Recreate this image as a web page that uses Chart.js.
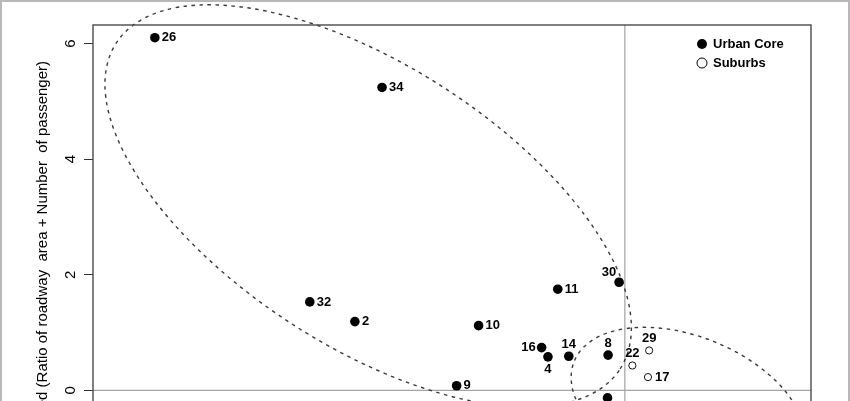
<!DOCTYPE html>
<html>
<head>
<meta charset="utf-8">
<script src="https://cdn.jsdelivr.net/npm/chart.js@4.4.1/dist/chart.umd.min.js"></script>
<style>
    html, body { margin: 0; padding: 0; background: #fff; overflow: hidden; }
    #wrap { position: relative; width: 850px; height: 401px; overflow: hidden; }
    #frame { position: absolute; left: 0; top: 0; width: 850px; height: 401px; box-sizing: border-box;
             border: 2px solid #b8b8b8; border-bottom: none; pointer-events: none; }
    canvas { position: absolute; left: 0; top: 0; }
</style>
</head>
<body>
<div id="wrap">
    <canvas id="chart" width="850" height="546"></canvas>
    <div id="frame"></div>
</div>
<script>
// urban core points
const urbanIds = ['26', '34', '30', '11', '32', '2', '10', '16', '4', '14', '8', '9', ''];
const urbanX = [-8.13, -4.20, -0.10, -1.16, -5.45, -4.67, -2.53, -1.44, -1.33, -0.97, -0.29, -2.91, -0.30];
const urbanY = [6.10, 5.24, 1.87, 1.75, 1.53, 1.19, 1.12, 0.74, 0.58, 0.59, 0.61, 0.08, -0.13];

// suburb points
const suburbIds = ['29', '22', '17'];
const suburbX = [0.42, 0.13, 0.40];
const suburbY = [0.69, 0.43, 0.23];

// group ellipses: centre, semi axes, angle (degrees)
const ellipseCx = [-4.44, 1.09];
const ellipseCy = [3.19, -0.29];
const ellipseA = [5.19, 2.12];
const ellipseB = [2.43, 1.22];
const ellipseAngle = [-32.9, -21.9];

const yTicks = [-2, 0, 2, 4, 6];
const legendNames = ['Urban Core', 'Suburbs'];
const yTitle = 'Standardized (Ratio of roadway  area + Number  of passenger)';

const FONT = '"Liberation Sans", Arial, Helvetica, sans-serif';

// where each id label sits relative to its dot
const urbanLabelPos = ['right', 'right', 'topleft', 'right', 'right', 'right', 'right', 'left', 'below', 'above', 'above', 'right', 'below'];
const suburbLabelPos = ['above', 'above', 'right'];

const toPoints = (xs, ys) => xs.map((x, i) => ({ x: x, y: ys[i] }));

const decorPlugin = {
    id: 'decor',
    beforeDatasetsDraw(chart) {
        const { ctx, chartArea: a, scales: { x, y } } = chart;
        ctx.save();
        // zero reference lines
        ctx.strokeStyle = '#a3a3a3';
        ctx.lineWidth = 1.2;
        ctx.beginPath();
        const x0 = x.getPixelForValue(0), y0 = y.getPixelForValue(0);
        ctx.moveTo(x0, a.top); ctx.lineTo(x0, a.bottom);
        ctx.moveTo(a.left, y0); ctx.lineTo(a.right, y0);
        ctx.stroke();

        // ellipses
        const sx = x.getPixelForValue(1) - x.getPixelForValue(0);
        const sy = y.getPixelForValue(0) - y.getPixelForValue(1);
        ctx.strokeStyle = '#3a3a3a';
        ctx.lineWidth = 1.4;
        ctx.setLineDash([3.5, 4.5]);
        for (let i = 0; i < ellipseCx.length; i++) {
            ctx.save();
            ctx.translate(x.getPixelForValue(ellipseCx[i]), y.getPixelForValue(ellipseCy[i]));
            ctx.scale(sx, -sy);
            ctx.rotate(ellipseAngle[i] * Math.PI / 180);
            ctx.beginPath();
            ctx.ellipse(0, 0, ellipseA[i], ellipseB[i], 0, 0, Math.PI * 2);
            ctx.restore();
            ctx.stroke();
        }
        ctx.restore();
    },
    afterDatasetsDraw(chart) {
        const { ctx, chartArea: a, scales: { y } } = chart;
        ctx.save();

        // point ids
        ctx.fillStyle = '#000';
        ctx.font = 'bold 13px ' + FONT;
        const drawIds = (dsIndex, ids, pos) => {
            chart.getDatasetMeta(dsIndex).data.forEach((pt, i) => {
                if (!ids[i]) return;
                let tx = pt.x, ty = pt.y;
                switch (pos[i]) {
                    case 'right': ctx.textAlign = 'left'; tx += 7; break;
                    case 'left': ctx.textAlign = 'right'; tx -= 6; break;
                    case 'above': ctx.textAlign = 'center'; ty -= 12; break;
                    case 'below': ctx.textAlign = 'center'; ty += 13; break;
                    case 'topleft': ctx.textAlign = 'center'; tx -= 10; ty -= 10; break;
                }
                ctx.textBaseline = 'middle';
                ctx.fillText(ids[i], tx, ty);
            });
        };
        drawIds(0, urbanIds, urbanLabelPos);
        drawIds(1, suburbIds, suburbLabelPos);

        // legend
        const lx = a.right - 109;
        ctx.textAlign = 'left';
        legendNames.forEach((name, i) => {
            const ly = a.top + 19 + i * 19;
            ctx.beginPath();
            ctx.arc(lx, ly, 5, 0, Math.PI * 2);
            if (i === 0) {
                ctx.fillStyle = '#000';
                ctx.fill();
            } else {
                ctx.fillStyle = '#fff';
                ctx.fill();
                ctx.strokeStyle = '#000';
                ctx.lineWidth = 1;
                ctx.stroke();
            }
            ctx.fillStyle = '#000';
            ctx.fillText(name, lx + 11, ly);
        });

        // y tick labels, rotated as in base R
        ctx.font = '15px ' + FONT;
        ctx.textAlign = 'center';
        ctx.textBaseline = 'middle';
        yTicks.forEach(v => {
            ctx.save();
            ctx.translate(71, y.getPixelForValue(v));
            ctx.rotate(-Math.PI / 2);
            ctx.fillText(String(v), 0, 0);
            ctx.restore();
        });

        // y title
        ctx.save();
        ctx.translate(43, (a.top + a.bottom) / 2 + 5);
        ctx.rotate(-Math.PI / 2);
        ctx.fillText(yTitle, 0, 0);
        ctx.restore();

        // plot box
        ctx.strokeStyle = '#4a4a4a';
        ctx.lineWidth = 1.4;
        ctx.strokeRect(a.left, a.top, a.right - a.left, a.bottom - a.top);
        ctx.restore();
    }
};

new Chart(document.getElementById('chart').getContext('2d'), {
    type: 'scatter',
    data: {
        datasets: [{
            label: legendNames[0],
            data: toPoints(urbanX, urbanY),
            pointRadius: 4.8,
            pointBackgroundColor: '#000',
            pointBorderColor: '#000',
            pointBorderWidth: 0
        }, {
            label: legendNames[1],
            data: toPoints(suburbX, suburbY),
            pointRadius: 3.6,
            pointBackgroundColor: '#fff',
            pointBorderColor: '#111',
            pointBorderWidth: 1
        }]
    },
    options: {
        responsive: false,
        animation: false,
        events: [],
        layout: { padding: { top: 25, right: 39, left: 0, bottom: 0 } },
        scales: {
            x: {
                type: 'linear',
                min: -9.2,
                max: 3.22,
                afterFit: (s) => { s.height = 40; },
                grid: { display: false },
                border: { display: false },
                ticks: { includeBounds: false, stepSize: 2, color: '#000', font: { family: FONT, size: 15 } }
            },
            y: {
                type: 'linear',
                min: -2,
                max: 6.32,
                afterFit: (s) => { s.width = 93; },
                afterBuildTicks: (s) => { s.ticks = yTicks.map(v => ({ value: v })); },
                grid: { drawOnChartArea: false, drawTicks: true, tickLength: 9, color: '#333', tickColor: '#333' },
                border: { display: false },
                ticks: { display: false }
            }
        },
        plugins: {
            legend: { display: false },
            tooltip: { enabled: false }
        }
    },
    plugins: [decorPlugin]
});
</script>
</body>
</html>
